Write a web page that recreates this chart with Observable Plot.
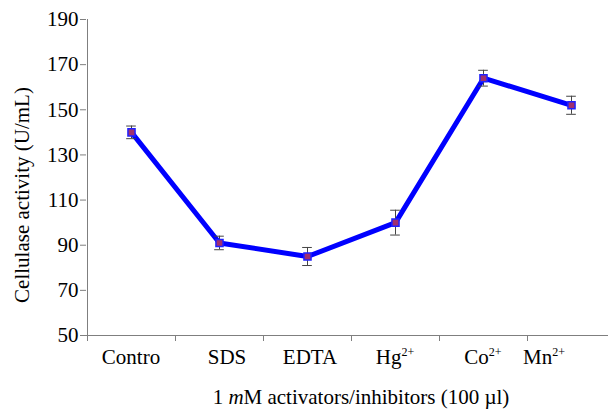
<!DOCTYPE html>
<html><head><meta charset="utf-8">
<script src="https://cdn.jsdelivr.net/npm/d3@7"></script>
<script src="https://cdn.jsdelivr.net/npm/@observablehq/plot@0.6"></script>
<style>
body{margin:0;background:#fff}
svg{display:block}
#chart svg text, #chart svg tspan{font-family:'Liberation Serif','Times New Roman',serif !important}
</style>
</head><body><div id="chart"></div>
<script>
const categories = ["Contro", "SDS", "EDTA", "Hg", "Co", "Mn"];
const charges = ["", "", "", "2+", "2+", "2+"];
const activity = [140, 91, 85, 100, 164, 152];
const errors = [2.8, 3, 4, 5.5, 3.5, 4];
const yTicks = [50, 70, 90, 110, 130, 150, 170, 190];
const yTitle = "Cellulase activity (U/mL)";
const xTitleParts = ["1 ", "m", "M activators/inhibitors (100 µl)"];

const data = categories.map((c, i) => ({i, c, v: activity[i], e: errors[i]}));
const serif = "'Liberation Serif', serif";
const axisColor = "#7f7f7f";

const plot = Plot.plot({
  width: 608, height: 409,
  marginLeft: 86, marginRight: 0, marginTop: 19, marginBottom: 74,
  style: {fontFamily: serif, fontSize: "21px", color: "#000", background: "#fff", overflow: "visible"},
  x: {domain: [-0.5, 5.5], range: [87, 615]},
  y: {domain: [50, 190]},
  marks: [
    Plot.axisY({ticks: yTicks, tickSize: 6, tickPadding: 2, label: null, stroke: axisColor, fill: "#000", fontSize: 21}),
    Plot.axisX({ticks: d3.range(6).map(i => i - 0.5), tickSize: 6, tickFormat: () => "", label: null, stroke: axisColor}),
    Plot.ruleX([-0.5], {stroke: axisColor}),
    Plot.ruleY([50], {stroke: axisColor}),
    Plot.line(data, {x: "i", y: "v", stroke: "#0000ff", strokeWidth: 5}),
    Plot.ruleX(data, {x: "i", y1: d => d.v - d.e, y2: d => d.v + d.e, stroke: "#444"}),
    Plot.ruleY(data, {y: d => d.v - d.e, x1: d => d.i - 0.055, x2: d => d.i + 0.055, stroke: "#444"}),
    Plot.ruleY(data, {y: d => d.v + d.e, x1: d => d.i - 0.055, x2: d => d.i + 0.055, stroke: "#444"}),
    Plot.dot(data, {x: "i", y: "v", symbol: "square", r: 4, fill: "#a0306e", stroke: "#2020ff", strokeWidth: 1.5})
  ]
});
document.getElementById("chart").append(plot);

const svg = d3.select(plot);
const xs = plot.scale("x");
const g = svg.append("g").attr("fill", "#000").attr("font-family", serif);

// small label nudges as in the reference layout
const nudge = {1: 8, 2: 3, 5: -27};
categories.forEach((c, i) => {
  const t = g.append("text")
    .attr("x", xs.apply(i) + (nudge[i] || 0))
    .attr("y", 364)
    .attr("text-anchor", "middle")
    .attr("font-size", 21)
    .text(c);
  if (charges[i]) {
    t.append("tspan").attr("font-size", 12).attr("dy", -8).text(charges[i]);
  }
});

const xt = g.append("text")
  .attr("x", 361).attr("y", 404)
  .attr("text-anchor", "middle").attr("font-size", 21);
xt.append("tspan").text(xTitleParts[0]);
xt.append("tspan").attr("font-style", "italic").text(xTitleParts[1]);
xt.append("tspan").text(xTitleParts[2]);

g.append("text")
  .attr("transform", "translate(29,195) rotate(-90)")
  .attr("text-anchor", "middle").attr("font-size", 21)
  .text(yTitle);
</script>
</body></html>
